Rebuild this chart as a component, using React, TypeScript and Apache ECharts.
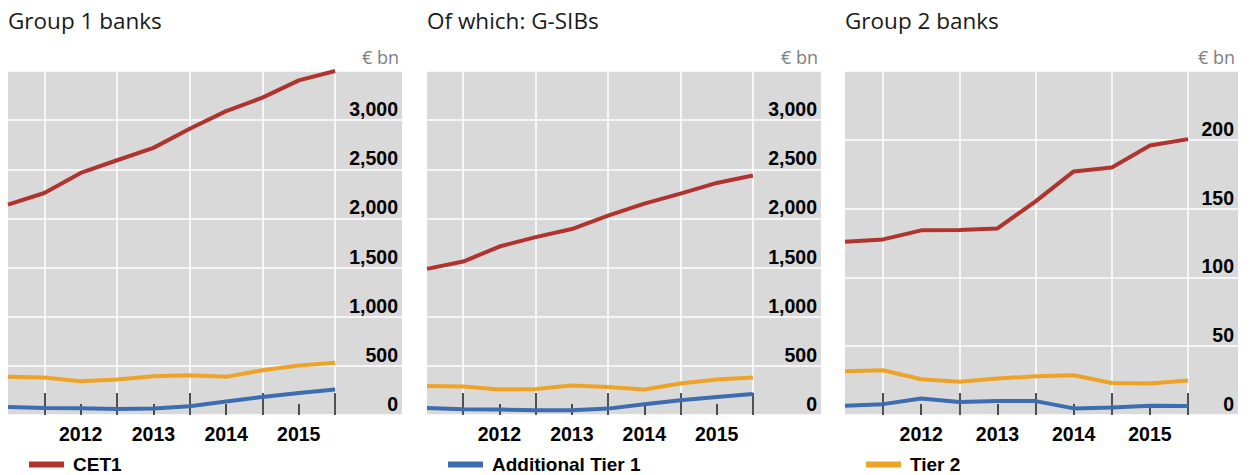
import React, { useEffect, useRef } from "react";
import * as echarts from "echarts";

// Semi-annual observation dates (x index 0..9)
const periods = [
  "Jun 2011", "Dec 2011", "Jun 2012", "Dec 2012", "Jun 2013",
  "Dec 2013", "Jun 2014", "Dec 2014", "Jun 2015", "Dec 2015",
];
const yearLabels = ["2012", "2013", "2014", "2015"];
const yearLabelPos = [2, 4, 6, 8];
const yearBoundaryPos = [1, 3, 5, 7, 9];

const panelTitles = ["Group 1 banks", "Of which: G-SIBs", "Group 2 banks"];
const seriesNames = ["CET1", "Additional Tier 1", "Tier 2"];

// Group 1 banks (€ bn)
const g1CET1 = [2140, 2259, 2463, 2592, 2718, 2912, 3092, 3229, 3405, 3500];
const g1AT1 = [82, 71, 68, 61, 65, 89, 137, 184, 224, 259];
const g1T2 = [388, 382, 344, 361, 395, 405, 388, 456, 504, 531];

// Of which: G-SIBs (€ bn)
const gsibCET1 = [1487, 1561, 1714, 1810, 1892, 2028, 2150, 2252, 2361, 2436];
const gsibAT1 = [71, 58, 55, 48, 48, 65, 109, 150, 184, 214];
const gsibT2 = [296, 290, 259, 265, 300, 286, 259, 320, 361, 382];

// Group 2 banks (€ bn)
const g2CET1 = [125.9, 127.6, 134.2, 134.4, 135.6, 155.3, 177.0, 179.9, 195.8, 200.5];
const g2AT1 = [6.7, 7.9, 12.0, 9.4, 10.1, 10.1, 4.8, 5.5, 6.7, 6.5];
const g2T2 = [31.8, 32.5, 26.0, 24.1, 26.5, 28.2, 28.9, 23.3, 22.9, 25.0];

const panelData = [
  [g1CET1, g1AT1, g1T2],
  [gsibCET1, gsibAT1, gsibT2],
  [g2CET1, g2AT1, g2T2],
];
const yMax = [3500, 3500, 250];
const yInterval = [500, 500, 50];

const colors = ["#B0332E", "#3D6DB1", "#EDA327"];

const panelLeft = [8, 427, 845];
const panelWidth = [394, 394, 393];
const xMax = [10.84, 10.88, 10.31];
const gridTop = 71;
const gridHeight = 344;

const axisFont = "'Liberation Sans', Arial, sans-serif";
const titleFont = "'Open Sans', sans-serif";

export default function App() {
  const ref = useRef<HTMLDivElement>(null);

  useEffect(() => {
    if (!ref.current) return;
    const chart = echarts.init(ref.current, null, { renderer: "svg" });

    const grids: any[] = [];
    const xAxes: any[] = [];
    const yAxes: any[] = [];
    const series: any[] = [];
    const titles: any[] = [];
    const legends: any[] = [];
    const graphics: any[] = [];

    for (let p = 0; p < 3; p++) {
      grids.push({
        left: panelLeft[p],
        top: gridTop,
        width: panelWidth[p],
        height: gridHeight,
        show: true,
        backgroundColor: "#D9D9D9",
        borderWidth: 0,
        containLabel: false,
      });
      // major ticks + vertical gridlines + year labels
      xAxes.push({
        type: "value",
        gridIndex: p,
        position: "bottom",
        min: 0,
        max: xMax[p],
        axisLine: { show: false },
        axisTick: {
          show: true,
          inside: true,
          length: 22,
          customValues: yearBoundaryPos,
          lineStyle: { color: "#1a1a1a", width: 1.5 },
        },
        splitLine: { show: true, lineStyle: { color: "#FFFFFF", width: 1.5 } },
        axisLabel: {
          show: true,
          customValues: yearLabelPos,
          margin: 9,
          formatter: (v: number) => {
            const i = yearLabelPos.indexOf(Math.round(v));
            return i >= 0 ? yearLabels[i] : "";
          },
          fontFamily: axisFont,
          fontWeight: "bold",
          fontSize: 19.5,
          color: "#000",
        },
      });
      // minor ticks (mid-year)
      xAxes.push({
        type: "value",
        gridIndex: p,
        position: "bottom",
        min: 0,
        max: xMax[p],
        axisLine: { show: false },
        axisTick: {
          show: true,
          inside: true,
          length: 11,
          customValues: yearLabelPos,
          lineStyle: { color: "#1a1a1a", width: 1.5 },
        },
        splitLine: { show: false },
        axisLabel: { show: false },
      });
      yAxes.push({
        type: "value",
        gridIndex: p,
        position: "right",
        min: 0,
        max: yMax[p],
        interval: yInterval[p],
        axisLine: { show: false },
        axisTick: { show: false },
        splitLine: { show: true, lineStyle: { color: "#FFFFFF", width: 1.5 } },
        axisLabel: {
          inside: true,
          margin: 4,
          showMaxLabel: false,
          verticalAlign: "bottom",
          lineHeight: 20,
          padding: [0, 0, 1, 0],
          formatter: (v: number) => v.toLocaleString("en-US"),
          fontFamily: axisFont,
          fontWeight: "bold",
          fontSize: 19.5,
          color: "#000",
        },
      });
      for (let s = 0; s < 3; s++) {
        series.push({
          type: "line",
          name: seriesNames[s],
          xAxisIndex: p * 2,
          yAxisIndex: p,
          data: panelData[p][s].map((v, i) => [i, v]),
          symbol: "none",
          color: colors[s],
          lineStyle: { color: colors[s], width: 4 },
          z: 3 - s + 2,
        });
      }
      titles.push({
        text: panelTitles[p],
        left: panelLeft[p],
        top: 9,
        padding: 0,
        textStyle: {
          fontFamily: titleFont,
          fontSize: 22.5,
          fontWeight: "normal",
          color: "#1a1a1a",
        },
      });
      legends.push({
        data: [seriesNames[p]],
        left: panelLeft[p] + 21,
        top: 455,
        padding: 0,
        icon: "rect",
        itemWidth: 35,
        itemHeight: 6,
        selectedMode: false,
        textStyle: {
          fontFamily: axisFont,
          fontWeight: "bold",
          fontSize: 19,
          color: "#000",
          padding: [0, 0, 0, 4],
        },
      });
      graphics.push({
        type: "text",
        x: panelLeft[p] + panelWidth[p] - 3,
        y: 57,
        style: {
          text: "€ bn",
          fontFamily: titleFont,
          fontSize: 18,
          fill: "#7f7f7f",
          align: "right",
          verticalAlign: "middle",
        },
      });
    }

    chart.setOption({
      animation: false,
      title: titles,
      legend: legends,
      grid: grids,
      xAxis: xAxes,
      yAxis: yAxes,
      series,
      graphic: graphics,
    });

    return () => chart.dispose();
  }, []);

  return (
    <div
      ref={ref}
      style={{ position: "absolute", left: 0, top: 0, width: 1250, height: 475 }}
    />
  );
}
